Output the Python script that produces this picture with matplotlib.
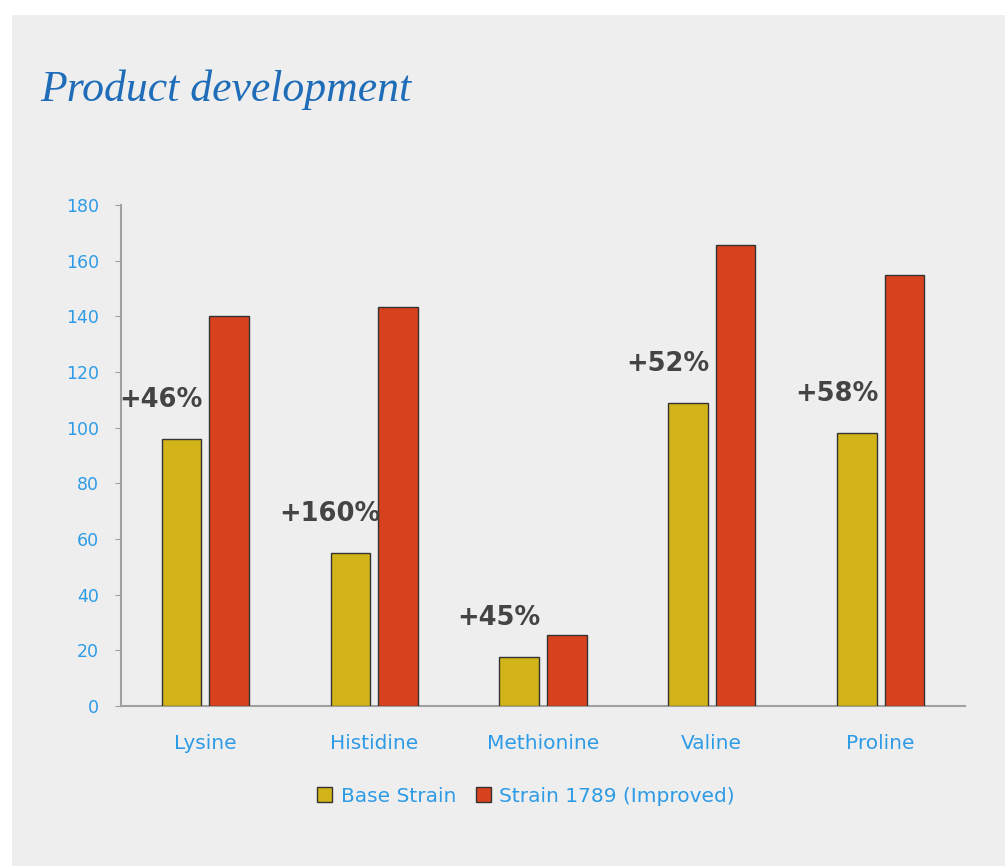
#!/usr/bin/env python

import numpy as np
import matplotlib.pyplot as plt
from matplotlib.patches import Rectangle

categories = ['Lysine', 'Histidine', 'Methionine', 'Valine', 'Proline']
base_strain = [96, 55, 17.5, 109, 98]
improved_strain = [140, 143.5, 25.5, 165.5, 155]
gain_labels = ['+46%', '+160%', '+45%', '+52%', '+58%']
yticks = [0, 20, 40, 60, 80, 100, 120, 140, 160, 180]

BASE_COLOR = '#d2b419'
IMPROVED_COLOR = '#d8411d'
TICK_BLUE = '#2e9be6'
PANEL = '#eeeeee'


def plot_chart():
    fig = plt.figure(figsize=(10.05, 8.66), dpi=100, facecolor='white')

    # grey panel behind everything, white strip top and left
    fig.patches.append(Rectangle((12 / 1005, 0), 1, (866 - 15) / 866,
                                 transform=fig.transFigure, facecolor=PANEL,
                                 edgecolor='none', zorder=-5))

    fig.text(40 / 1005, 1 - 90 / 866, 'Product development', fontsize=31.5,
             family='Liberation Serif', style='italic', color='#1f6db8',
             va='center', ha='left')

    ax = fig.add_axes([121 / 1005, 1 - 706 / 866, (965 - 121) / 1005, 501 / 866])
    ax.set_facecolor('none')

    x = np.arange(len(categories))
    w = 0.235
    off = 0.141
    ax.bar(x - off, base_strain, w, color=BASE_COLOR, edgecolor='#333333',
           linewidth=1, label='Base Strain', zorder=3)
    ax.bar(x + off, improved_strain, w, color=IMPROVED_COLOR, edgecolor='#333333',
           linewidth=1, label='Strain 1789 (Improved)', zorder=3)

    # percentage labels sit above-left of the base bar
    for i, lab in enumerate(gain_labels):
        ax.text(x[i] - off - 0.12, base_strain[i] + 14, lab, ha='center',
                va='center', fontsize=18.5, fontweight='bold', color='#444444',
                family='DejaVu Sans')

    ax.set_xlim(-0.5, 4.5)
    ax.set_ylim(0, 180)
    ax.set_yticks(yticks)
    ax.set_xticks(x)
    ax.set_xticklabels(categories)

    for s in ['top', 'right']:
        ax.spines[s].set_visible(False)
    ax.spines['left'].set_color('#a0a0a0')
    ax.spines['bottom'].set_color('#a0a0a0')
    ax.spines['left'].set_linewidth(1.5)
    ax.spines['bottom'].set_linewidth(1.5)

    ax.tick_params(axis='y', colors='#a0a0a0', labelcolor=TICK_BLUE,
                   labelsize=12.5, length=4, pad=12)
    ax.tick_params(axis='x', length=0, labelcolor=TICK_BLUE, labelsize=14.5, pad=20)

    leg = ax.legend(loc='center', bbox_to_anchor=(0.48, -0.18), ncol=2,
                    frameon=False, fontsize=14.5, handlelength=0.75,
                    handleheight=0.75, handletextpad=0.4, columnspacing=1.0)
    for t in leg.get_texts():
        t.set_color(TICK_BLUE)

    plt.savefig('out.png', dpi=100, facecolor=fig.get_facecolor())


plot_chart()
